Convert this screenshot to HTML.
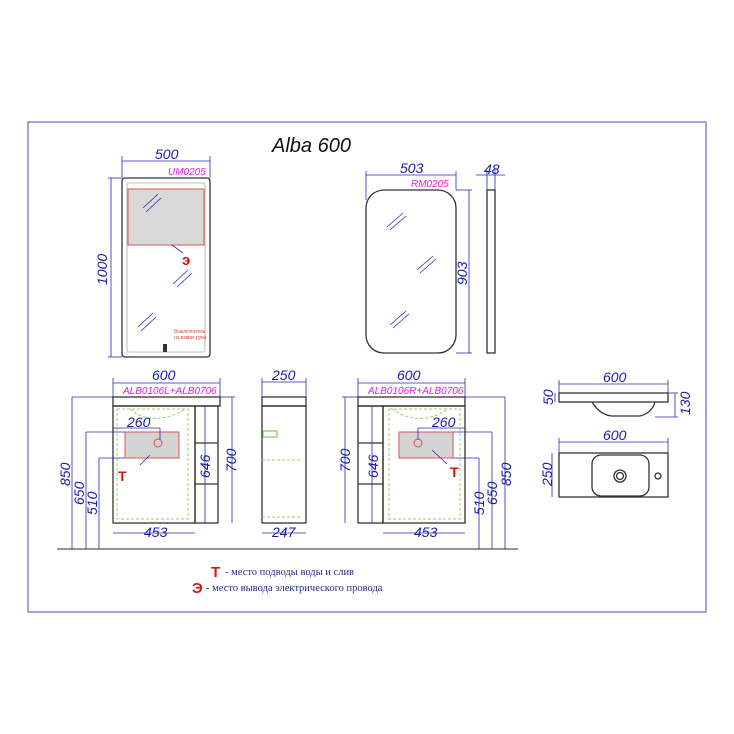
<!DOCTYPE html>
<html><head><meta charset="utf-8"><style>
html,body{margin:0;padding:0;background:#fff;}
svg{display:block;}
.d{stroke:#2a2ab8;stroke-width:0.8;fill:none}
.k{stroke:#333;stroke-width:1.3;fill:none}
.g{stroke:#9bd26b;stroke-width:1;fill:none;stroke-dasharray:3,2}
.t{font-family:"Liberation Sans",sans-serif;font-style:italic;fill:#1a1aa8;font-size:14px}
.m{font-family:"Liberation Sans",sans-serif;font-style:italic;fill:#e020e0;font-size:10px}
.r{font-family:"Liberation Serif",serif;fill:#2a2a8a;font-size:10.5px}
</style></head><body>
<svg width="734" height="734" viewBox="0 0 734 734" xmlns="http://www.w3.org/2000/svg">
<rect x="28" y="122" width="678" height="490" fill="none" stroke="#4a4ac0" stroke-width="1"/>
<text x="272" y="152" font-family="Liberation Sans,sans-serif" font-style="italic" font-size="20" fill="#111">Alba 600</text>

<!-- UM mirror -->
<rect x="122" y="178" width="88" height="179" rx="3" class="k" stroke-width="1.8"/>
<rect x="127" y="183" width="78" height="169" rx="2" fill="none" stroke="#aaa" stroke-width="0.8"/>
<rect x="128" y="189" width="76" height="56" fill="#d8d8d8" stroke="#e05050" stroke-width="1"/>
<line class="d" x1="122" y1="161" x2="210" y2="161"/><line class="d" x1="122" y1="156" x2="122" y2="178"/><line class="d" x1="210" y1="156" x2="210" y2="178"/>
<text class="t" x="155" y="159">500</text>
<text class="m" x="168" y="175">UM0205</text>
<line class="d" x1="111" y1="178" x2="111" y2="357"/><line class="d" x1="108" y1="178" x2="122" y2="178"/><line class="d" x1="108" y1="357" x2="122" y2="357"/>
<text class="t" transform="translate(107,285) rotate(-90)">1000</text>
<g class="d"><line x1="143" y1="208" x2="158" y2="194"/><line x1="146" y1="212" x2="161" y2="198"/><line x1="173" y1="284" x2="188" y2="270"/><line x1="177" y1="287" x2="192" y2="273"/><line x1="138" y1="327" x2="153" y2="313"/><line x1="141" y1="331" x2="156" y2="317"/><line x1="172" y1="245" x2="183" y2="253"/></g>
<text x="182" y="265" font-family="Liberation Sans,sans-serif" font-weight="bold" font-size="15" fill="#e01010">э</text>
<text x="174" y="333" font-family="Liberation Sans,sans-serif" font-size="5" fill="#e04040">Выключатель</text>
<text x="174" y="339" font-family="Liberation Sans,sans-serif" font-size="5" fill="#e04040">на взмах руки</text>
<rect x="163" y="344" width="4" height="8" fill="#333"/>

<!-- RM mirror -->
<rect x="366" y="190" width="90" height="163" rx="18" class="k" stroke-width="1.6"/>
<line class="d" x1="366" y1="175" x2="456" y2="175"/><line class="d" x1="366" y1="171" x2="366" y2="200"/><line class="d" x1="456" y1="171" x2="456" y2="190"/>
<text class="t" x="400" y="173">503</text>
<text class="m" x="411" y="187">RM0205</text>
<line class="d" x1="469" y1="190" x2="469" y2="353"/><line class="d" x1="456" y1="190" x2="472" y2="190"/><line class="d" x1="456" y1="353" x2="472" y2="353"/>
<text class="t" transform="translate(467,285) rotate(-90)">903</text>
<rect x="487" y="190" width="8" height="163" class="k" stroke-width="1.2"/>
<line class="d" x1="476" y1="175" x2="505" y2="175"/><line class="d" x1="487" y1="170" x2="487" y2="190"/><line class="d" x1="495" y1="170" x2="495" y2="190"/>
<text class="t" x="484" y="174">48</text>
<g class="d"><line x1="387" y1="227" x2="403" y2="213"/><line x1="390" y1="230" x2="406" y2="216"/><line x1="417" y1="270" x2="433" y2="256"/><line x1="420" y1="273" x2="436" y2="259"/><line x1="390" y1="325" x2="406" y2="311"/><line x1="393" y1="328" x2="409" y2="314"/></g>

<!-- floor -->
<line x1="57" y1="549" x2="518" y2="549" stroke="#555" stroke-width="1.2"/>

<!-- Left cabinet -->
<rect x="113" y="397" width="107" height="9" class="k" stroke-width="1"/>
<rect x="113" y="406" width="82" height="117" class="k"/>
<rect x="195" y="406" width="23" height="117" class="k" stroke-width="1"/>
<line class="k" stroke-width="1" x1="195" y1="443" x2="218" y2="443"/><line class="k" stroke-width="1" x1="195" y1="484" x2="218" y2="484"/>
<rect x="117" y="409" width="71" height="110" class="g"/>
<path class="g" d="M130 409 Q152 428 186 409"/>
<rect x="125" y="432" width="54" height="26" fill="#d4d4d4" stroke="#e05050" stroke-width="1"/>
<circle cx="158" cy="443" r="4" fill="none" stroke="#e05050"/>
<line class="d" x1="113" y1="383" x2="220" y2="383"/><line class="d" x1="113" y1="378" x2="113" y2="397"/><line class="d" x1="220" y1="378" x2="220" y2="397"/>
<text class="t" x="152" y="380">600</text>
<text class="m" x="123" y="394">ALB0106L+ALB0706</text>
<line class="d" x1="113" y1="428" x2="160" y2="428"/><line class="d" x1="160" y1="428" x2="160" y2="440"/>
<text class="t" x="127" y="427">260</text>
<line class="d" x1="113" y1="533" x2="195" y2="533"/>
<text class="t" x="144" y="537">453</text>
<line class="d" x1="72" y1="397" x2="72" y2="549"/><line class="d" x1="72" y1="397" x2="113" y2="397"/>
<line class="d" x1="86" y1="432" x2="86" y2="549"/><line class="d" x1="86" y1="432" x2="125" y2="432"/>
<line class="d" x1="99" y1="458" x2="99" y2="549"/><line class="d" x1="99" y1="458" x2="125" y2="458"/>
<text class="t" transform="translate(70,486) rotate(-90)">850</text>
<text class="t" transform="translate(84,505) rotate(-90)">650</text>
<text class="t" transform="translate(97,515) rotate(-90)">510</text>
<line class="d" x1="232" y1="397" x2="232" y2="523"/><line class="d" x1="220" y1="397" x2="235" y2="397"/>
<text class="t" transform="translate(236,472) rotate(-90)">700</text>
<line class="d" x1="205" y1="406" x2="205" y2="523"/>
<text class="t" transform="translate(210,478) rotate(-90)">646</text>
<line class="d" x1="140" y1="465" x2="150" y2="455"/>
<text x="118" y="481" font-family="Liberation Sans,sans-serif" font-weight="bold" font-size="14" fill="#e01010">T</text>

<!-- Side view -->
<rect x="262" y="397" width="44" height="9" class="k" stroke-width="1"/>
<rect x="262" y="406" width="44" height="117" class="k"/>
<line class="g" x1="262" y1="460" x2="302" y2="460"/><line class="g" x1="262" y1="517" x2="302" y2="517"/>
<rect x="263" y="431" width="14" height="6" fill="none" stroke="#6ac040"/>
<line class="d" x1="262" y1="382" x2="306" y2="382"/><line class="d" x1="262" y1="378" x2="262" y2="397"/><line class="d" x1="306" y1="378" x2="306" y2="397"/>
<text class="t" x="272" y="380">250</text>
<line class="d" x1="262" y1="533" x2="306" y2="533"/>
<text class="t" x="272" y="537">247</text>

<!-- Right cabinet -->
<rect x="358" y="397" width="107" height="9" class="k" stroke-width="1"/>
<rect x="383" y="406" width="82" height="117" class="k"/>
<rect x="358" y="406" width="25" height="117" class="k" stroke-width="1"/>
<line class="k" stroke-width="1" x1="358" y1="443" x2="383" y2="443"/><line class="k" stroke-width="1" x1="358" y1="484" x2="383" y2="484"/>
<rect x="389" y="409" width="71" height="110" class="g"/>
<path class="g" d="M392 409 Q420 428 448 409"/>
<rect x="399" y="432" width="54" height="26" fill="#d4d4d4" stroke="#e05050" stroke-width="1"/>
<circle cx="418" cy="443" r="4" fill="none" stroke="#e05050"/>
<line class="d" x1="358" y1="383" x2="465" y2="383"/><line class="d" x1="358" y1="378" x2="358" y2="397"/><line class="d" x1="465" y1="378" x2="465" y2="397"/>
<text class="t" x="397" y="380">600</text>
<text class="m" x="368" y="394">ALB0106R+ALB0706</text>
<line class="d" x1="418" y1="428" x2="465" y2="428"/><line class="d" x1="418" y1="428" x2="418" y2="440"/>
<text class="t" x="432" y="427">260</text>
<line class="d" x1="383" y1="533" x2="465" y2="533"/>
<text class="t" x="414" y="537">453</text>
<line class="d" x1="505" y1="397" x2="505" y2="549"/><line class="d" x1="465" y1="397" x2="505" y2="397"/>
<line class="d" x1="492" y1="432" x2="492" y2="549"/><line class="d" x1="453" y1="432" x2="492" y2="432"/>
<line class="d" x1="479" y1="458" x2="479" y2="549"/><line class="d" x1="453" y1="458" x2="479" y2="458"/>
<text class="t" transform="translate(511,486) rotate(-90)">850</text>
<text class="t" transform="translate(497,505) rotate(-90)">650</text>
<text class="t" transform="translate(484,515) rotate(-90)">510</text>
<line class="d" x1="345" y1="397" x2="345" y2="523"/><line class="d" x1="342" y1="397" x2="358" y2="397"/>
<text class="t" transform="translate(350,472) rotate(-90)">700</text>
<line class="d" x1="372" y1="406" x2="372" y2="523"/>
<text class="t" transform="translate(378,478) rotate(-90)">646</text>
<line class="d" x1="432" y1="450" x2="447" y2="464"/>
<text x="450" y="477" font-family="Liberation Sans,sans-serif" font-weight="bold" font-size="14" fill="#e01010">T</text>

<!-- Sink profile -->
<rect x="559" y="393" width="109" height="9" class="k" stroke-width="1"/>
<path class="k" stroke-width="1" d="M592 402 Q600 415 612 416 L640 416 Q652 413 655 402"/>
<line class="d" x1="559" y1="384" x2="668" y2="384"/><line class="d" x1="559" y1="380" x2="559" y2="393"/><line class="d" x1="668" y1="380" x2="668" y2="393"/>
<text class="t" x="603" y="382">600</text>
<line class="d" x1="555" y1="393" x2="555" y2="402"/>
<text class="t" transform="translate(553,405) rotate(-90)">50</text>
<line class="d" x1="675" y1="393" x2="675" y2="417"/><line class="d" x1="668" y1="393" x2="678" y2="393"/><line class="d" x1="655" y1="417" x2="678" y2="417"/>
<text class="t" transform="translate(690,415) rotate(-90)">130</text>

<!-- Sink top -->
<rect x="559" y="453" width="109" height="44" class="k" stroke-width="1"/>
<rect x="592" y="455" width="57" height="41" rx="9" class="k" stroke-width="1"/>
<circle cx="620" cy="476" r="6" class="k" stroke-width="1"/><circle cx="620" cy="476" r="3.5" class="k" stroke-width="0.8"/>
<circle cx="658" cy="476" r="3" class="k" stroke-width="0.8"/>
<line class="d" x1="559" y1="442" x2="668" y2="442"/><line class="d" x1="559" y1="438" x2="559" y2="453"/><line class="d" x1="668" y1="438" x2="668" y2="453"/>
<text class="t" x="603" y="440">600</text>
<line class="d" x1="552" y1="453" x2="552" y2="497"/>
<text class="t" transform="translate(552,486) rotate(-90)">250</text>

<!-- Legend -->
<text x="211" y="577" font-family="Liberation Sans,sans-serif" font-weight="bold" font-size="15" fill="#e01010">T</text>
<text class="r" x="225" y="575">- место подводы воды и слив</text>
<text x="192" y="593" font-family="Liberation Sans,sans-serif" font-weight="bold" font-size="15" fill="#e01010">Э</text>
<text class="r" x="206" y="591">- место вывода электрического провода</text>
</svg>
</body></html>
